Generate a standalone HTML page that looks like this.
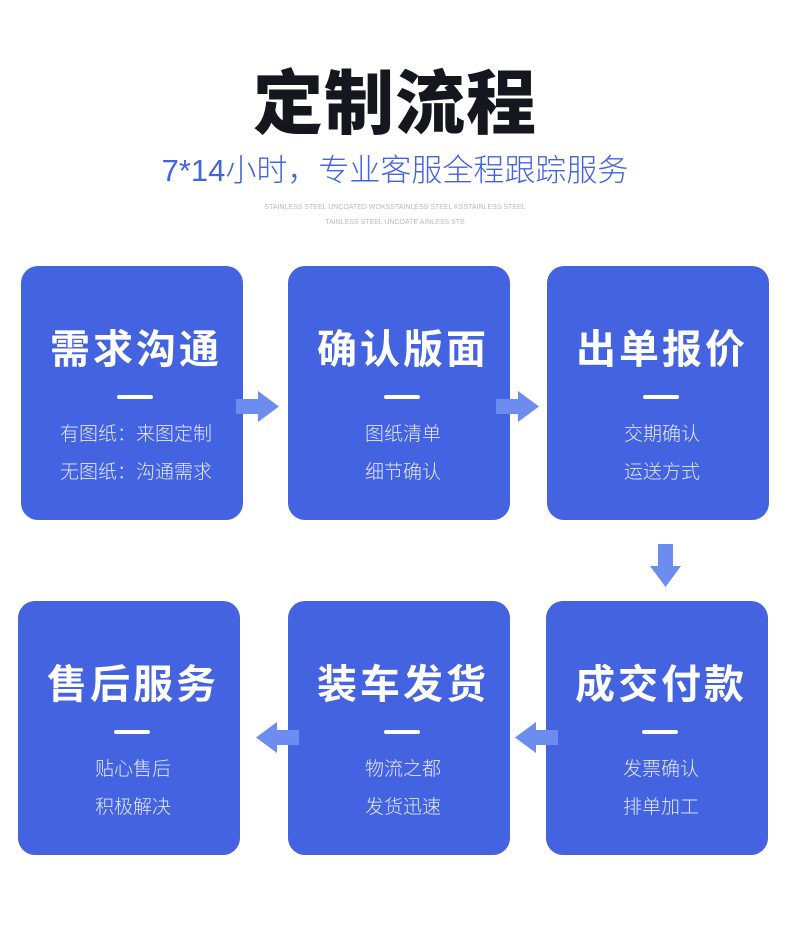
<!DOCTYPE html>
<html><head><meta charset="utf-8"><style>
body{margin:0;width:790px;height:927px;background:#fff;position:relative;overflow:hidden;font-family:"Liberation Sans","Noto Sans CJK SC",sans-serif}
.t{position:absolute;left:0;width:790px;text-align:center}
.b{position:absolute;width:222px;height:254px;background:#4463e0;border-radius:17px;color:#fff;text-align:center}
.b h3{margin:0;position:absolute;top:59px;left:4px;width:100%;font-size:40px;line-height:50px;font-weight:700;letter-spacing:3px}
.b i{position:absolute;left:96px;top:129px;width:36px;height:4px;border-radius:2px;background:#fff}
.b p{margin:0;position:absolute;left:4px;width:100%;font-size:19px;line-height:24px;color:#e3e8ff;font-weight:300}
svg{position:absolute}
</style></head><body>
<div class="t" style="top:61px;font-size:70px;font-weight:900;line-height:86px;color:#16161f;letter-spacing:1px">定制流程</div>
<div class="t" style="top:151px;font-size:31px;line-height:40px;color:#4463e0;font-weight:300">7*14小时，专业客服全程跟踪服务</div>
<div class="t" style="top:203px;font-size:7px;color:#bbb;line-height:10px">STAINLESS STEEL UNCOATED WOKSSTAINLESS STEEL KSSTAINLESS STEEL</div>
<div class="t" style="top:218px;font-size:7px;color:#bbb;line-height:10px">TAINLESS STEEL UNCOATE AINLESS STE</div>

<div class="b" style="left:21px;top:266px"><h3>需求沟通</h3><i></i><p style="top:157px">有图纸：来图定制</p><p style="top:195px">无图纸：沟通需求</p></div>
<div class="b" style="left:288px;top:266px"><h3>确认版面</h3><i></i><p style="top:157px">图纸清单</p><p style="top:195px">细节确认</p></div>
<div class="b" style="left:547px;top:266px"><h3>出单报价</h3><i></i><p style="top:157px">交期确认</p><p style="top:195px">运送方式</p></div>
<div class="b" style="left:18px;top:601px"><h3>售后服务</h3><i></i><p style="top:157px">贴心售后</p><p style="top:195px">积极解决</p></div>
<div class="b" style="left:288px;top:601px"><h3>装车发货</h3><i></i><p style="top:157px">物流之都</p><p style="top:195px">发货迅速</p></div>
<div class="b" style="left:546px;top:601px"><h3>成交付款</h3><i></i><p style="top:157px">发票确认</p><p style="top:195px">排单加工</p></div>

<svg style="left:236px;top:391px" width="44" height="31"><path d="M0 8H22V0L43 15.5 22 31V23H0Z" fill="#6c8cf0"/></svg>
<svg style="left:496px;top:391px" width="44" height="31"><path d="M0 8H22V0L43 15.5 22 31V23H0Z" fill="#6c8cf0"/></svg>
<svg style="left:650px;top:544px" width="31" height="44"><path d="M8 0V22H0L15.5 43 31 22H23V0Z" fill="#6c8cf0"/></svg>
<svg style="left:256px;top:722px" width="44" height="31"><path d="M43 8H21V0L0 15.5 21 31V23H43Z" fill="#6c8cf0"/></svg>
<svg style="left:515px;top:722px" width="44" height="31"><path d="M43 8H21V0L0 15.5 21 31V23H43Z" fill="#6c8cf0"/></svg>
</body></html>
